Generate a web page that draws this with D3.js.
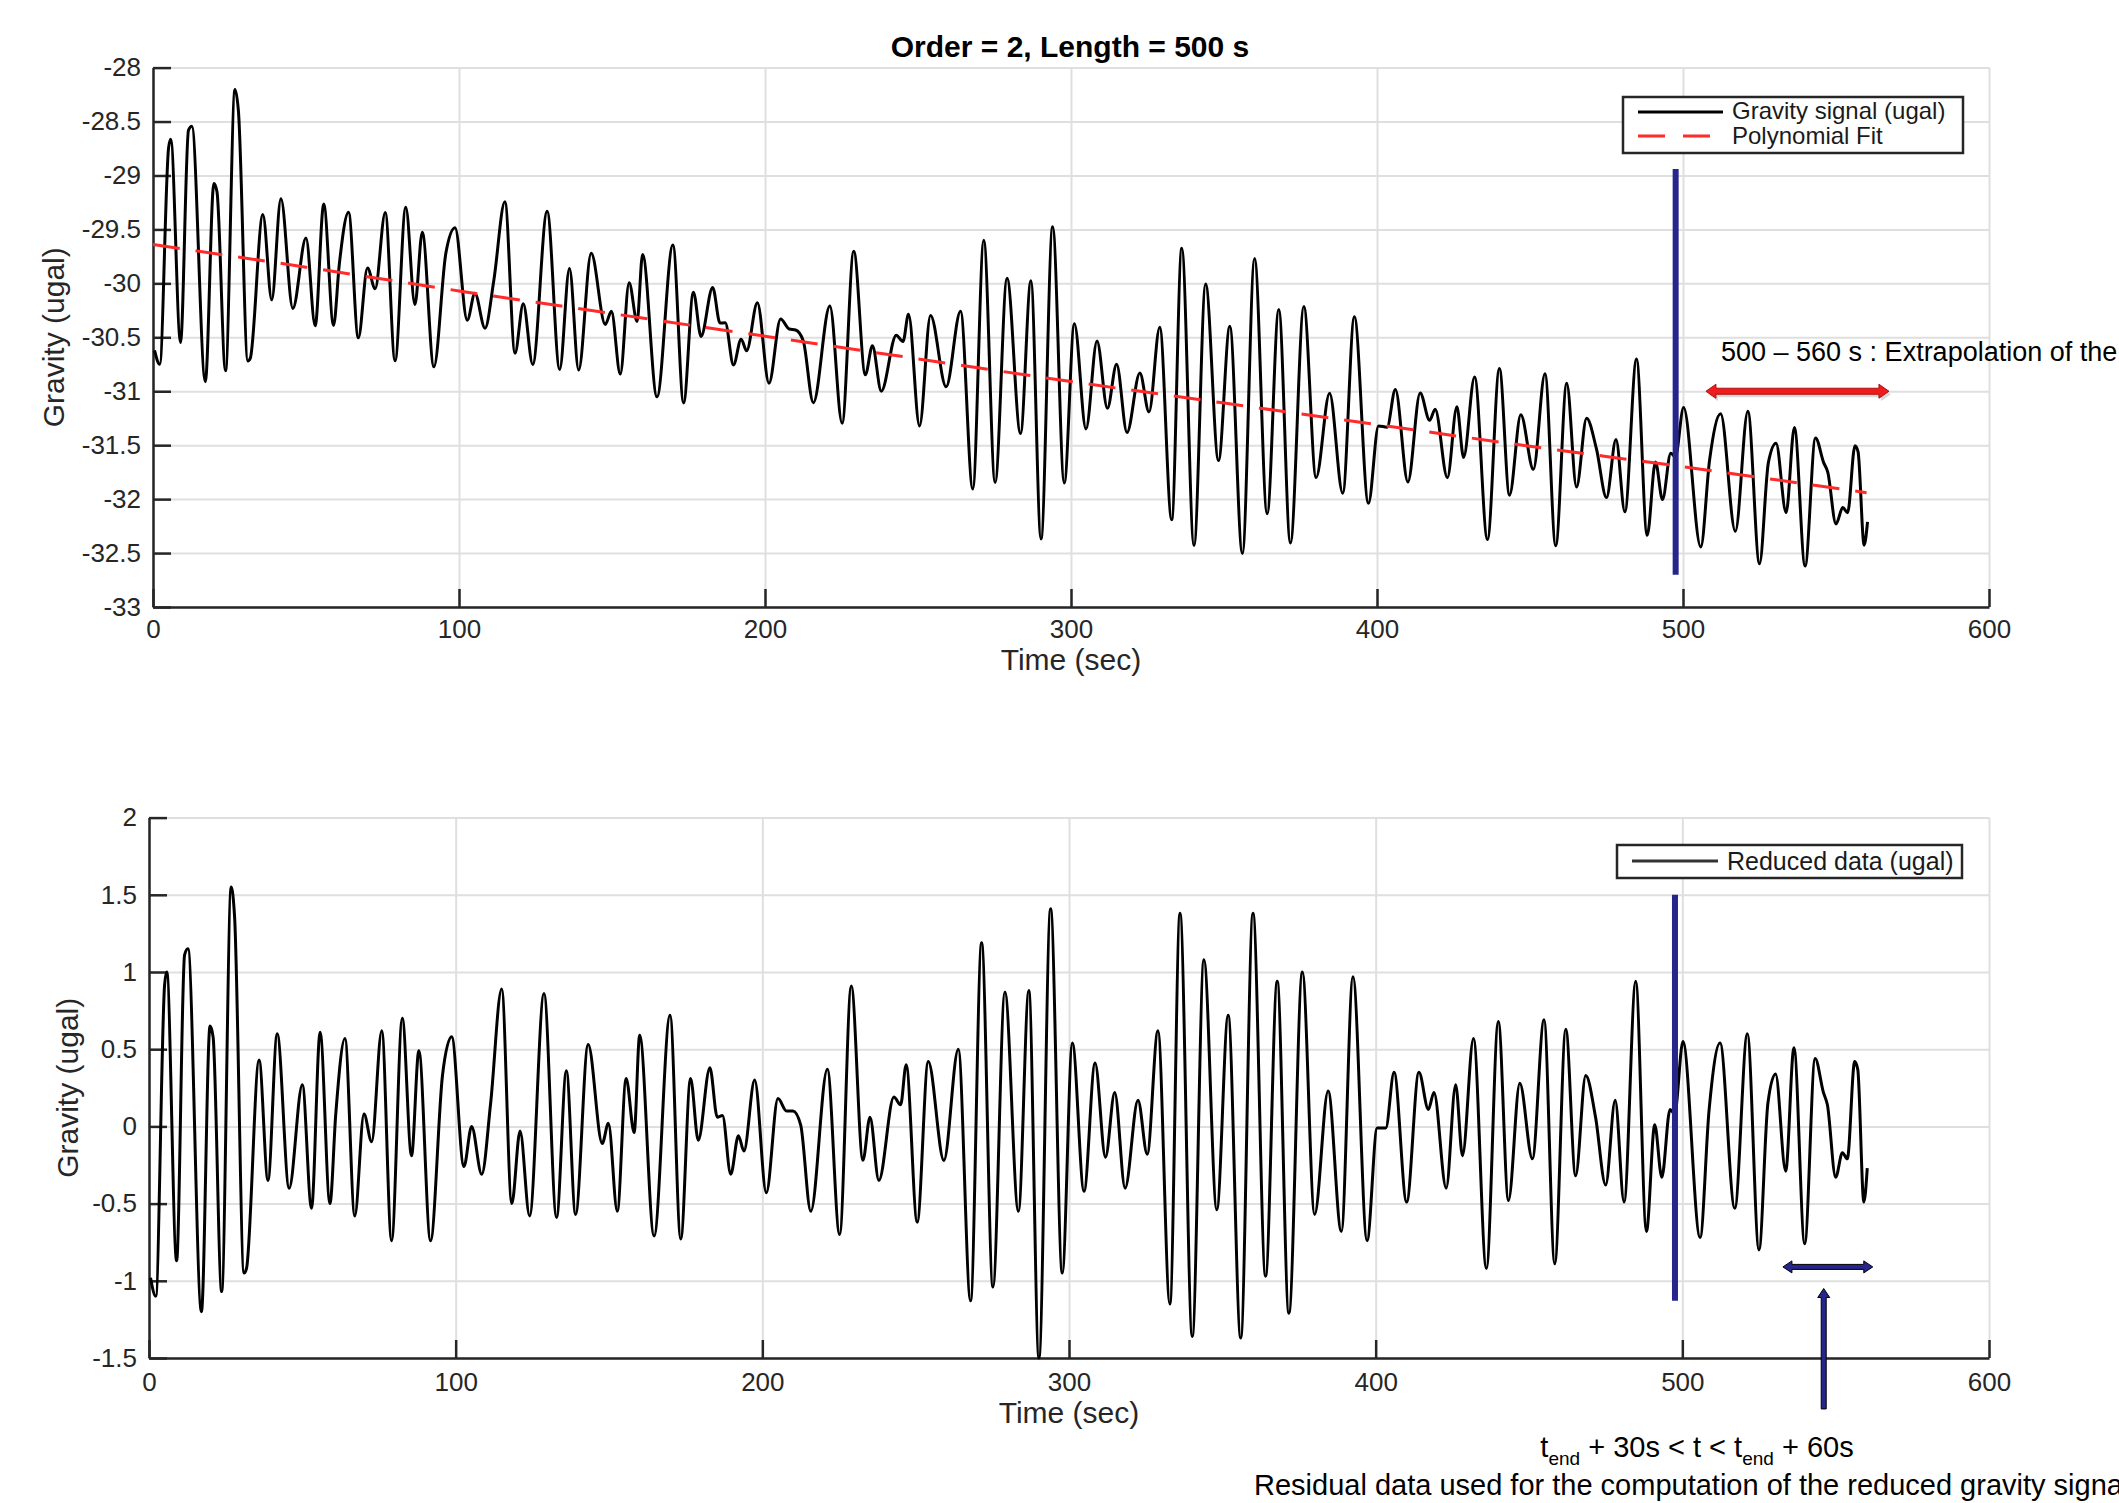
<!DOCTYPE html>
<html>
<head>
<meta charset="utf-8">
<script src="https://cdn.jsdelivr.net/npm/d3@7"></script>
<style>
  body { margin: 0; background: #fff; }
  svg { display: block; font-family: "Liberation Sans", Arial, Helvetica, sans-serif; }
</style>
</head>
<body>
<svg id="chart" width="2119" height="1503"></svg>
<script>
// turning points of the reduced gravity curve (time in s, value in ugal)
const times = [
  0.5, 2.2, 5.1, 5.8, 9.0, 11.6, 12.7, 17.1, 19.9, 20.9, 23.7, 26.8, 27.9, 31.0, 31.8,
  35.9, 38.8, 41.8, 45.7, 50.0, 53.0, 55.8, 59.0, 60.9, 63.9, 67.1, 70.1, 72.6, 75.9, 79.1,
  82.6, 85.6, 88.0, 91.8, 95.7, 98.7, 102.7, 105.2, 108.5, 111.4, 115.0, 118.3, 121.0, 124.1,
  128.8, 132.9, 136.1, 139.1, 143.2, 147.8, 149.8, 152.7, 155.6, 158.2, 160.0,
  164.7, 169.9, 173.4, 176.6, 179.1, 182.9, 185.3, 187.0, 189.7, 192.2, 194.0, 197.5, 201.3,
  205.1, 207.9, 210.0, 212.5, 215.8, 221.2, 225.2, 229.0, 232.8, 235.1, 238.0,
  242.9, 245.1, 246.9, 250.5, 254.1, 259.2, 263.9, 267.9, 271.5, 275.2, 279.1, 283.5, 286.9,
  290.2, 294.0, 297.8, 301.1, 304.9, 308.5, 311.9, 314.9, 318.3,
  322.5, 325.5, 329.0, 332.9, 336.2, 340.2, 344.0, 348.2, 351.9, 356.0, 360.0, 364.1, 367.9,
  371.7, 376.1, 380.1, 384.5, 388.8, 392.6, 397.2,
  400.5, 403.3, 406.0, 410.1, 414.1, 417.2, 419.0, 423.0, 426.1, 428.3, 431.9, 436.1, 440.0,
  443.3, 447.0, 451.1, 454.9, 458.4, 462.0, 465.2, 468.5, 471.7, 475.0, 478.1,
  481.0, 484.8, 488.3, 491.0, 493.3, 496.0, 497.5, 500.2, 505.8, 508.7, 512.3, 517.1, 521.2,
  525.0, 527.9, 530.4, 533.7, 536.4, 539.9, 543.3, 546.0, 547.3, 550.0, 552.2, 553.8, 556.2,
  557.2, 559.2, 560.3
];
const reduced = [
  -0.98, -1.10, 0.92, 1.00, -0.87, 1.11, 1.15, -1.20, 0.65, 0.58, -1.07, 1.55, 1.36, -0.95, -0.92,
  0.43, -0.35, 0.60, -0.40, 0.27, -0.53, 0.61, -0.50, 0.08, 0.57, -0.58, 0.08, -0.10, 0.62, -0.74,
  0.70, -0.19, 0.49, -0.74, 0.33, 0.58, -0.26, 0.00, -0.31, 0.15, 0.89, -0.50, -0.03, -0.58,
  0.86, -0.59, 0.36, -0.57, 0.53, -0.11, 0.02, -0.55, 0.31, -0.04, 0.59,
  -0.71, 0.72, -0.73, 0.31, -0.09, 0.38, 0.06, 0.07, -0.31, -0.06, -0.16, 0.30, -0.43,
  0.18, 0.10, 0.10, 0.01, -0.55, 0.37, -0.70, 0.91, -0.22, 0.06, -0.35,
  0.19, 0.14, 0.40, -0.62, 0.42, -0.22, 0.50, -1.13, 1.19, -1.04, 0.87, -0.55, 0.88,
  -1.50, 1.41, -0.95, 0.54, -0.42, 0.41, -0.20, 0.22, -0.40,
  0.17, -0.18, 0.62, -1.15, 1.38, -1.36, 1.08, -0.54, 0.72, -1.37, 1.38, -0.97, 0.94,
  -1.21, 1.00, -0.57, 0.23, -0.68, 0.97, -0.74,
  -0.01, -0.01, 0.35, -0.49, 0.35, 0.11, 0.22, -0.40, 0.27, -0.19, 0.57, -0.92, 0.68,
  -0.48, 0.28, -0.21, 0.69, -0.89, 0.63, -0.32, 0.33, 0.06, -0.38, 0.17,
  -0.49, 0.94, -0.68, 0.01, -0.33, 0.11, 0.08, 0.55, -0.72, 0.10, 0.54, -0.53, 0.60,
  -0.80, 0.15, 0.34, -0.29, 0.51, -0.76, 0.44, 0.22, 0.14, -0.33, -0.17, -0.21, 0.42,
  0.37, -0.49, -0.27
];

// order 2 polynomial fit
const fitTimes  = [0, 50, 100, 150, 200, 250, 300, 350, 400, 450, 500, 560];
const fitValues = [-29.64, -29.85, -30.07, -30.28, -30.49, -30.70, -30.91, -31.11, -31.31, -31.51, -31.70, -31.94];

const xTicks = [0, 100, 200, 300, 400, 500, 600];
const topTicks = [-33, -32.5, -32, -31.5, -31, -30.5, -30, -29.5, -29, -28.5, -28];
const bottomTicks = [-1.5, -1, -0.5, 0, 0.5, 1, 1.5, 2];

// annotations: end of the fit window and the extrapolation / residual windows
const tEnd = 497.6;
const topMarker = [-28.94, -32.70];
const bottomMarker = [1.50, -1.13];
const extrapArrow = { t: [507.5, 567.3], value: -31.0 };
const residualArrow = { t: [532.8, 562.1], value: -0.91 };
const pointerArrow = { t: 546.1, value: [-1.05, -1.83] };

const svg = d3.select('#chart');
const axisColor = '#262626';
const gridColor = '#dfdfdf';

// the signal = reduced data + polynomial fit
const fitAt = d3.scaleLinear().domain(fitTimes).range(fitValues);
const signal = times.map((t, i) => reduced[i] + fitAt(t));

const panels = [
  {
    x: d3.scaleLinear().domain([0, 600]).range([153, 1989]),
    y: d3.scaleLinear().domain([-33, -28]).range([607, 67.6]),
    ticks: topTicks, pad: 13, labelX: 64, xLabelY: 670
  },
  {
    x: d3.scaleLinear().domain([0, 600]).range([149, 1989]),
    y: d3.scaleLinear().domain([-1.5, 2]).range([1358, 817.6]),
    ticks: bottomTicks, pad: 15, labelX: 78, xLabelY: 1423
  }
];

panels.forEach(p => {
  const [x0, x1] = p.x.range();
  const [y0, y1] = p.y.range();
  const g = svg.append('g');

  // grid
  g.append('g')
    .attr('transform', `translate(0,${y0})`)
    .call(d3.axisBottom(p.x).tickValues(xTicks).tickSize(-(y0 - y1)).tickFormat(''))
    .call(s => s.select('.domain').remove())
    .selectAll('line').attr('stroke', gridColor).attr('stroke-width', 2);
  g.append('g')
    .attr('transform', `translate(${x0},0)`)
    .call(d3.axisLeft(p.y).tickValues(p.ticks).tickSize(-(x1 - x0)).tickFormat(''))
    .call(s => s.select('.domain').remove())
    .selectAll('line').attr('stroke', gridColor).attr('stroke-width', 2);

  // axes with inward ticks
  const xa = g.append('g')
    .attr('transform', `translate(0,${y0})`)
    .call(d3.axisBottom(p.x).tickValues(xTicks).tickSizeInner(-18).tickSizeOuter(0)
      .tickPadding(p.pad).tickFormat(d => String(d)));
  const ya = g.append('g')
    .attr('transform', `translate(${x0},0)`)
    .call(d3.axisLeft(p.y).tickValues(p.ticks).tickSizeInner(-18).tickSizeOuter(0)
      .tickPadding(12).tickFormat(d => String(d)));
  [xa, ya].forEach(a => {
    a.select('.domain').attr('stroke', axisColor).attr('stroke-width', 2.5);
    a.selectAll('line').attr('stroke', axisColor).attr('stroke-width', 2.5);
    a.selectAll('text').attr('fill', axisColor).attr('font-size', 26)
      .attr('font-family', '"Liberation Sans", Arial, sans-serif');
  });

  g.append('text')
    .attr('x', (x0 + x1) / 2).attr('y', p.xLabelY)
    .attr('text-anchor', 'middle').attr('font-size', 30).attr('fill', axisColor)
    .text('Time (sec)');
  g.append('text')
    .attr('transform', `translate(${p.labelX},${(y0 + y1) / 2}) rotate(-90)`)
    .attr('text-anchor', 'middle').attr('font-size', 30).attr('fill', axisColor)
    .text('Gravity (ugal)');
});

const topP = panels[0], botP = panels[1];

svg.append('text')
  .attr('x', 1070).attr('y', 57)
  .attr('text-anchor', 'middle').attr('font-size', 30).attr('font-weight', 'bold')
  .text('Order = 2, Length = 500 s');

// top panel lines
svg.append('path')
  .datum(times)
  .attr('fill', 'none').attr('stroke', '#000').attr('stroke-width', 3)
  .attr('stroke-linejoin', 'round')
  .attr('d', d3.line().curve(d3.curveMonotoneX)
    .x(t => topP.x(t)).y((t, i) => topP.y(signal[i])));

svg.append('path')
  .datum(fitTimes)
  .attr('fill', 'none').attr('stroke', '#ff2a2a').attr('stroke-width', 3)
  .attr('stroke-dasharray', '27,16')
  .attr('d', d3.line().curve(d3.curveMonotoneX)
    .x(t => topP.x(t)).y((t, i) => topP.y(fitValues[i])));

// bottom panel line
svg.append('path')
  .datum(times)
  .attr('fill', 'none').attr('stroke', '#000').attr('stroke-width', 3)
  .attr('stroke-linejoin', 'round')
  .attr('d', d3.line().curve(d3.curveMonotoneX)
    .x(t => botP.x(t)).y((t, i) => botP.y(reduced[i])));

// legends
const legTop = svg.append('g');
legTop.append('rect').attr('x', 1623).attr('y', 97).attr('width', 340).attr('height', 56)
  .attr('fill', '#fff').attr('stroke', axisColor).attr('stroke-width', 2.5);
legTop.append('line').attr('x1', 1638).attr('x2', 1723).attr('y1', 112).attr('y2', 112)
  .attr('stroke', '#000').attr('stroke-width', 3);
legTop.append('line').attr('x1', 1638).attr('x2', 1723).attr('y1', 136).attr('y2', 136)
  .attr('stroke', '#ff2a2a').attr('stroke-width', 3).attr('stroke-dasharray', '27,18');
legTop.append('text').attr('x', 1732).attr('y', 119).attr('font-size', 24).attr('fill', '#1a1a1a')
  .text('Gravity signal (ugal)');
legTop.append('text').attr('x', 1732).attr('y', 144).attr('font-size', 24).attr('fill', '#1a1a1a')
  .text('Polynomial Fit');

const legBot = svg.append('g');
legBot.append('rect').attr('x', 1617).attr('y', 845).attr('width', 345).attr('height', 33)
  .attr('fill', '#fff').attr('stroke', axisColor).attr('stroke-width', 2.5);
legBot.append('line').attr('x1', 1632).attr('x2', 1718).attr('y1', 861).attr('y2', 861)
  .attr('stroke', '#333').attr('stroke-width', 3);
legBot.append('text').attr('x', 1727).attr('y', 870).attr('font-size', 25).attr('fill', '#1a1a1a')
  .text('Reduced data (ugal)');

// end-of-window markers
const navy = '#25258c';
svg.append('line')
  .attr('x1', topP.x(tEnd)).attr('x2', topP.x(tEnd))
  .attr('y1', topP.y(topMarker[0])).attr('y2', topP.y(topMarker[1]))
  .attr('stroke', navy).attr('stroke-width', 6);
svg.append('line')
  .attr('x1', botP.x(tEnd)).attr('x2', botP.x(tEnd))
  .attr('y1', botP.y(bottomMarker[0])).attr('y2', botP.y(bottomMarker[1]))
  .attr('stroke', navy).attr('stroke-width', 6);

// horizontal double arrow path
const doubleArrow = (xa, xb, y, shaft, head, len) =>
  `M${xa},${y} L${xa + len},${y - head} L${xa + len},${y - shaft} L${xb - len},${y - shaft}` +
  ` L${xb - len},${y - head} L${xb},${y} L${xb - len},${y + head} L${xb - len},${y + shaft}` +
  ` L${xa + len},${y + shaft} L${xa + len},${y + head} Z`;

svg.append('path')
  .attr('d', doubleArrow(topP.x(extrapArrow.t[0]) + 2, topP.x(extrapArrow.t[1]) + 2,
    topP.y(extrapArrow.value) + 3, 3, 7, 10))
  .attr('fill', '#000').attr('opacity', 0.15);
svg.append('path')
  .attr('d', doubleArrow(topP.x(extrapArrow.t[0]), topP.x(extrapArrow.t[1]),
    topP.y(extrapArrow.value), 3, 7, 10))
  .attr('fill', '#ee1c1c').attr('stroke', '#b21010').attr('stroke-width', 1);

svg.append('path')
  .attr('d', doubleArrow(botP.x(residualArrow.t[0]), botP.x(residualArrow.t[1]),
    botP.y(residualArrow.value), 2.5, 6, 9))
  .attr('fill', navy).attr('stroke', '#000').attr('stroke-width', 1);

// vertical pointer arrow
const px = botP.x(pointerArrow.t);
const pyTip = botP.y(pointerArrow.value[0]);
const pyEnd = botP.y(pointerArrow.value[1]);
svg.append('path')
  .attr('d', `M${px},${pyTip} L${px + 6},${pyTip + 9} L${px + 2.5},${pyTip + 9} L${px + 2.5},${pyEnd}` +
    ` L${px - 2.5},${pyEnd} L${px - 2.5},${pyTip + 9} L${px - 6},${pyTip + 9} Z`)
  .attr('fill', navy).attr('stroke', '#000').attr('stroke-width', 1);

// annotation texts
svg.append('text').attr('x', 1721).attr('y', 361).attr('font-size', 27).attr('fill', '#000')
  .text('500 – 560 s : Extrapolation of the');

const sub = svg.append('text').attr('x', 1697).attr('y', 1457)
  .attr('text-anchor', 'middle').attr('font-size', 29).attr('fill', '#000');
sub.append('tspan').text('t');
sub.append('tspan').attr('font-size', 19).attr('dy', 8).text('end');
sub.append('tspan').attr('dy', -8).text(' + 30s < t < t');
sub.append('tspan').attr('font-size', 19).attr('dy', 8).text('end');
sub.append('tspan').attr('dy', -8).text(' + 60s');

// the reference cuts this caption at the right edge of the picture
svg.append('text').attr('x', 1254).attr('y', 1495).attr('font-size', 29).attr('fill', '#000')
  .text('Residual data used for the computation of the reduced gravity signal');
</script>
</body>
</html>
